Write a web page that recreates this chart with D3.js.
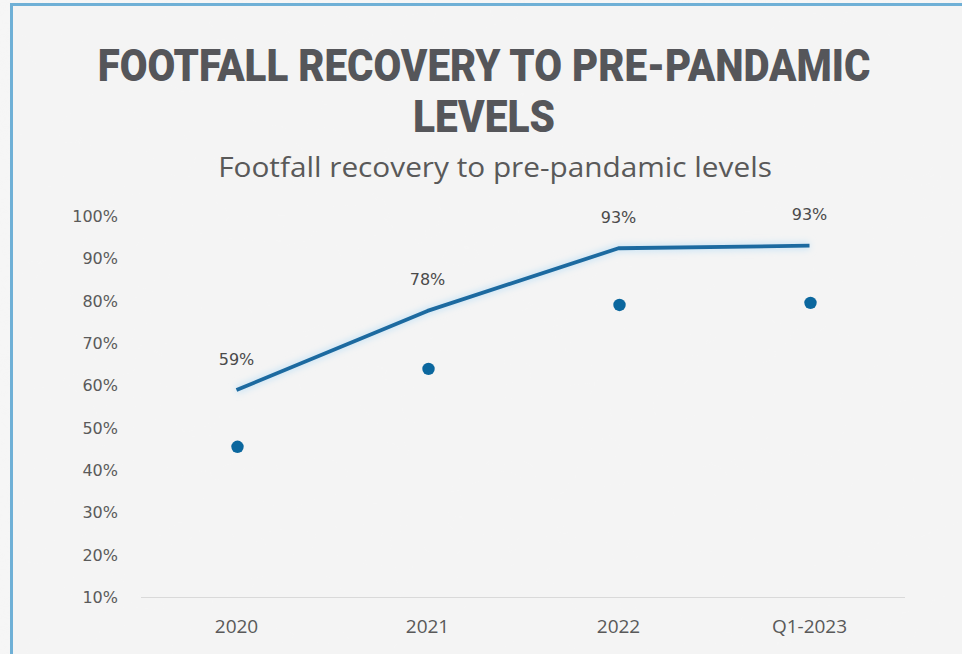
<!DOCTYPE html>
<html>
<head>
<meta charset="utf-8">
<script src="https://cdn.jsdelivr.net/npm/d3@7"></script>
<style>
  html, body { margin: 0; padding: 0; background: #f5f5f5; }
  svg { display: block; }
</style>
</head>
<body>
<script>
// ---- data ----
const categories = ["2020", "2021", "2022", "Q1-2023"];
const recoveryLine = [59, 77.7, 92.5, 93.1];
const recoveryLabels = ["59%", "78%", "93%", "93%"];
const recoveryDots = [45.6, 64, 79.1, 79.6];
const yTicks = [10, 20, 30, 40, 50, 60, 70, 80, 90, 100];
const titleLines = ["FOOTFALL RECOVERY TO PRE-PANDAMIC", "LEVELS"];
const subtitle = "Footfall recovery to pre-pandamic levels";

// ---- layout ----
const W = 962, H = 654;
const svg = d3.select("body").append("svg").attr("width", W).attr("height", H);

const defs = svg.append("defs");
const f = defs.append("filter").attr("id", "paper").attr("x", 0).attr("y", 0).attr("width", "100%").attr("height", "100%");
f.append("feTurbulence").attr("type", "fractalNoise").attr("baseFrequency", "0.012 0.02").attr("numOctaves", 3).attr("seed", 7).attr("result", "n");
f.append("feColorMatrix").attr("type", "matrix")
  .attr("values", "0 0 0 0 0.9  0 0 0 0 0.9  0 0 0 0 0.9  1.2 0 0 0 -0.45");

const glow = defs.append("filter").attr("id", "glow").attr("x", "-10%").attr("y", "-50%").attr("width", "120%").attr("height", "200%");
glow.append("feGaussianBlur").attr("stdDeviation", 3);

svg.append("rect").attr("width", W).attr("height", H).attr("fill", "#f6f6f6");
svg.append("rect").attr("width", W).attr("height", H).attr("filter", "url(#paper)").attr("opacity", 0.35);

// frame
svg.append("rect").attr("x", 11.5).attr("y", 4.5).attr("width", W + 20).attr("height", H + 20)
  .attr("fill", "#f3f3f3").attr("fill-opacity", 0.4)
  .attr("stroke", "#6fb0d6").attr("stroke-width", 3);

// titles
function fitText(sel, targetW) {
  const w = sel.node().getComputedTextLength();
  const x = +sel.attr("x"), y = +sel.attr("y");
  const s = targetW / w;
  sel.attr("transform", `translate(${x},${y}) scale(${s},1) translate(${-x},${-y})`);
}
const titleFont = "Roboto, 'DejaVu Sans Condensed', sans-serif";
const t1 = svg.append("text").attr("x", 484).attr("y", 81).attr("text-anchor", "middle")
  .style("font-family", titleFont)
  .style("font-weight", "900").style("font-size", "44px").attr("fill", "#55565a")
  .text(titleLines[0]);
fitText(t1, 773);
const t2 = svg.append("text").attr("x", 484).attr("y", 132).attr("text-anchor", "middle")
  .style("font-family", titleFont)
  .style("font-weight", "900").style("font-size", "44px").attr("fill", "#55565a")
  .text(titleLines[1]);
fitText(t2, 142);

const st = svg.append("text").attr("x", 495).attr("y", 177).attr("text-anchor", "middle")
  .style("font-family", "'Open Sans', sans-serif").style("font-size", "27px").attr("fill", "#595959")
  .text(subtitle);
fitText(st, 554);

// scales
const x = d3.scaleBand().domain(categories).range([141, 905]);
const y = d3.scaleLinear().domain([10, 100]).range([597.5, 216.5]);

// baseline
svg.append("line").attr("x1", x.range()[0]).attr("x2", x.range()[1])
  .attr("y1", y(10)).attr("y2", y(10)).attr("stroke", "#d9d9d9").attr("stroke-width", 1.2);

// y axis
const yAxis = svg.append("g").attr("transform", "translate(118,0)")
  .call(d3.axisLeft(y).tickValues(yTicks).tickSize(0).tickPadding(0).tickFormat(d => d + "%"));
yAxis.select(".domain").remove();
yAxis.selectAll("text").style("font-family", "'DejaVu Sans', sans-serif").style("font-size", "16px")
  .attr("fill", "#5a5a5a");

// x axis
const xAxis = svg.append("g").attr("transform", `translate(0,${y(10)})`)
  .call(d3.axisBottom(x).tickSize(0).tickPadding(22));
xAxis.select(".domain").remove();
xAxis.selectAll("text").style("font-family", "'Open Sans', sans-serif").style("font-size", "19px")
  .attr("fill", "#595959");

// line
const pts = categories.map((c, i) => [x(c) + x.bandwidth() / 2, y(recoveryLine[i])]);
const lineGen = d3.line();
svg.append("path").attr("d", lineGen(pts)).attr("fill", "none")
  .attr("stroke", "#cfe6f5").attr("stroke-width", 8).attr("filter", "url(#glow)");
svg.append("path").attr("d", lineGen(pts)).attr("fill", "none")
  .attr("stroke", "#1c6aa0").attr("stroke-width", 3.8).attr("stroke-linejoin", "round");

// labels
svg.append("g").selectAll("text").data(categories).join("text")
  .attr("x", c => x(c) + x.bandwidth() / 2)
  .attr("y", (c, i) => y(recoveryLine[i]) - 30)
  .attr("text-anchor", "middle").attr("dominant-baseline", "middle")
  .style("font-family", "'DejaVu Sans', sans-serif").style("font-size", "16px")
  .attr("fill", "#4a4a4a")
  .text((c, i) => recoveryLabels[i]);

// dots
svg.append("g").selectAll("circle").data(categories).join("circle")
  .attr("cx", c => x(c) + x.bandwidth() / 2 + 1)
  .attr("cy", (c, i) => y(recoveryDots[i]))
  .attr("r", 6.2).attr("fill", "#0b679e");
</script>
</body>
</html>
